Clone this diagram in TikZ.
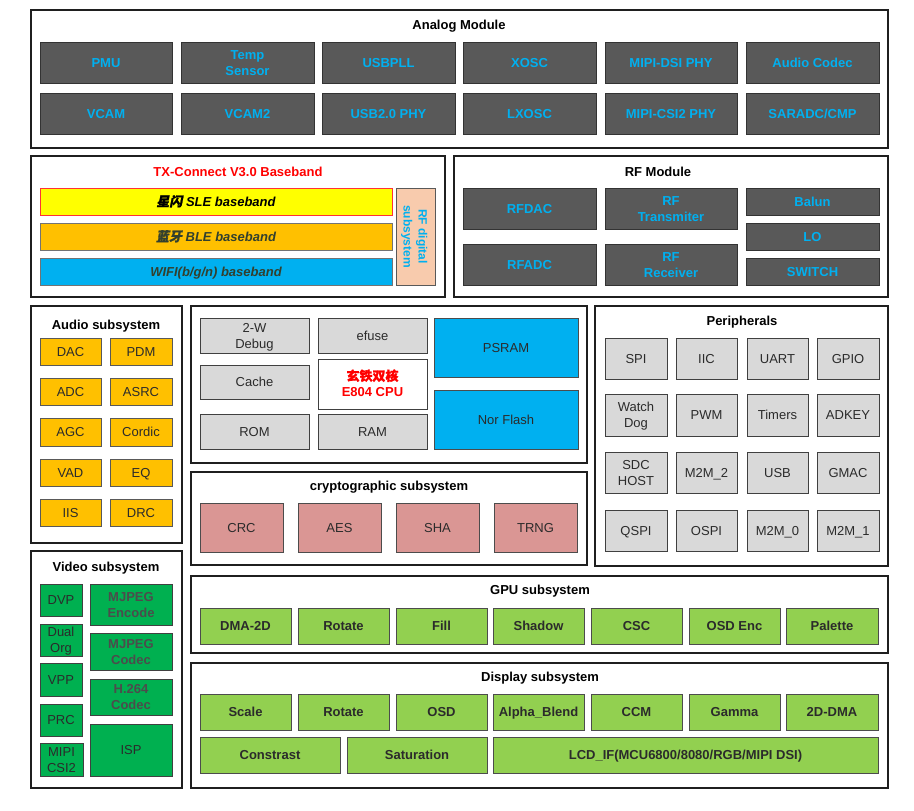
\documentclass[tikz,border=0pt]{standalone}
\usepackage{fontspec}
\setmainfont{Liberation Sans}
\newfontfamily\cjk[FakeBold=1]{Noto Sans CJK SC}
\newfontfamily\cjkit[FakeBold=1,FakeSlant=0.2]{Noto Sans CJK SC}
\definecolor{cyanb}{HTML}{00B0F0}
\definecolor{dgray}{HTML}{595959}
\definecolor{lgray}{HTML}{D9D9D9}
\definecolor{orng}{HTML}{FFC000}
\definecolor{pinkc}{HTML}{DA9694}
\definecolor{vgreen}{HTML}{00B050}
\definecolor{lgreen}{HTML}{92D050}
\definecolor{peach}{HTML}{F8CBAD}
\definecolor{ylw}{HTML}{FFFF00}
\definecolor{txtd}{HTML}{2B2B2B}
\definecolor{txtg}{HTML}{33402E}
\newcommand\bx[7]{\node[#1, minimum width={(#5-#3)*1pt}, minimum height={(#6-#4)*1pt}] (#2) at ({(#3+#5)/2},{(#4+#6)/2}) {#7};}
\tikzset{
  frame/.style={draw=black!88, line width=1.4pt, fill=white, inner sep=0pt},
  ttl/.style={font=\bfseries\fontsize{13}{15}\selectfont, text=black, inner sep=0pt},
  base/.style={inner sep=0pt, outer sep=0pt, align=center, line width=1pt, text height=9.4pt, text depth=0pt},
  ml/.style={text height=25.4pt, text depth=0pt},
  ana/.style={base, draw=black!80, fill=dgray, text=cyanb, font=\bfseries\fontsize{13}{16}\selectfont},
  gbox/.style={base, draw=black!75, fill=lgray, text=txtd, font=\fontsize{13}{16}\selectfont},
  obox/.style={base, draw=black!65, fill=orng, text=txtd, font=\fontsize{13}{16}\selectfont},
  cbox/.style={base, draw=black!70, fill=cyanb, text=txtd, font=\fontsize{13}{16}\selectfont},
  pbox/.style={base, draw=black!70, fill=pinkc, text=txtd, font=\fontsize{13}{16}\selectfont},
  vbox/.style={base, draw=black!75, fill=vgreen, text=txtd, font=\fontsize{13}{16}\selectfont},
  vboxb/.style={vbox, text=black!70, font=\bfseries\fontsize{13}{16}\selectfont},
  lbox/.style={base, draw=black!70, fill=lgreen, text=txtd, font=\bfseries\fontsize{13}{16}\selectfont},
  bband/.style={base, draw=black!55, font=\bfseries\itshape\fontsize{13}{16}\selectfont},
}
\begin{document}
\begin{tikzpicture}[x=1pt,y=-1pt]
\useasboundingbox (0,0) rectangle (914,811);
% frames
\bx{frame}{fA}{31}{10}{888}{148}{}
\bx{frame}{fT}{31}{156}{445}{297}{}
\bx{frame}{fR}{454}{156}{888}{297}{}
\bx{frame}{fAu}{31}{306}{182}{543}{}
\bx{frame}{fC}{191}{306}{587}{463}{}
\bx{frame}{fCr}{191}{472}{587}{565}{}
\bx{frame}{fP}{595}{306}{888}{566}{}
\bx{frame}{fV}{31}{551}{182}{788}{}
\bx{frame}{fG}{191}{576}{888}{653}{}
\bx{frame}{fD}{191}{663}{888}{788}{}
% titles
\node[ttl] (tA) at (459,26) {Analog Module};
\node[ttl, text=red] (tT) at (238,172) {TX-Connect V3.0 Baseband};
\node[ttl] (tR) at (658,172) {RF Module};
\node[ttl] (tAu) at (106,326) {Audio subsystem};
\node[ttl] (tCr) at (389,487) {cryptographic subsystem};
\node[ttl] (tP) at (742,322) {Peripherals};
\node[ttl] (tV) at (106,568) {Video subsystem};
\node[ttl] (tG) at (540,591) {GPU subsystem};
\node[ttl] (tD) at (540,678) {Display subsystem};
% analog
\bx{ana}{a1}{40}{42}{172}{83}{PMU}
\bx{ana, ml}{a2}{181}{42}{314}{83}{Temp\\Sensor}
\bx{ana}{a3}{322}{42}{455}{83}{USBPLL}
\bx{ana}{a4}{463}{42}{596}{83}{XOSC}
\bx{ana}{a5}{605}{42}{737}{83}{MIPI-DSI PHY}
\bx{ana}{a6}{746}{42}{879}{83}{Audio Codec}
\bx{ana}{a7}{40}{93}{172}{134}{VCAM}
\bx{ana}{a8}{181}{93}{314}{134}{VCAM2}
\bx{ana}{a9}{322}{93}{455}{134}{USB2.0 PHY}
\bx{ana}{a10}{463}{93}{596}{134}{LXOSC}
\bx{ana}{a11}{605}{93}{737}{134}{MIPI-CSI2 PHY}
\bx{ana}{a12}{746}{93}{879}{134}{SARADC/CMP}
% TX-Connect
\bx{bband, fill=ylw, draw=red!80}{sle}{40}{188}{392}{215}{{\cjkit 星闪} SLE baseband}
\bx{bband, fill=orng, text=txtg}{ble}{40}{223}{392}{250}{{\cjkit 蓝牙} BLE baseband}
\bx{bband, fill=cyanb, text=txtg}{wifi}{40}{258}{392}{285}{WIFI(b/g/n) baseband}
\bx{base, draw=black!65, fill=peach}{rfd}{396}{188}{435}{285}{}
\node[rotate=-90, align=center, text=cyanb, font=\bfseries\fontsize{12}{15}\selectfont, inner sep=0pt, text height=23.7pt, text depth=0pt] (rfdt) at (rfd.center) {RF digital\\subsystem};
% RF module
\bx{ana}{r1}{463}{188}{596}{229}{RFDAC}
\bx{ana}{r2}{463}{244}{596}{285}{RFADC}
\bx{ana, ml}{r3}{605}{188}{737}{229}{RF\\Transmiter}
\bx{ana, ml}{r4}{605}{244}{737}{285}{RF\\Receiver}
\bx{ana}{r5}{746}{188}{879}{215}{Balun}
\bx{ana}{r6}{746}{223}{879}{250}{LO}
\bx{ana}{r7}{746}{258}{879}{285}{SWITCH}
% audio
\bx{obox}{au1}{40}{338}{101}{365}{DAC}
\bx{obox}{au2}{110}{338}{172}{365}{PDM}
\bx{obox}{au3}{40}{378}{101}{405}{ADC}
\bx{obox}{au4}{110}{378}{172}{405}{ASRC}
\bx{obox}{au5}{40}{418}{101}{446}{AGC}
\bx{obox}{au6}{110}{418}{172}{446}{Cordic}
\bx{obox}{au7}{40}{459}{101}{486}{VAD}
\bx{obox}{au8}{110}{459}{172}{486}{EQ}
\bx{obox}{au9}{40}{499}{101}{526}{IIS}
\bx{obox}{au10}{110}{499}{172}{526}{DRC}
% CPU
\bx{gbox, ml}{c1}{200}{318}{309}{353}{2-W\\Debug}
\bx{gbox}{c2}{318}{318}{427}{353}{efuse}
\bx{gbox}{c3}{200}{365}{309}{399}{Cache}
\bx{base, ml, draw=black!75, fill=white, text=red, font=\bfseries\fontsize{13}{16}\selectfont}{cpu}{318}{359}{427}{409}{{\cjk 玄铁双核}\\E804 CPU}
\bx{gbox}{c5}{200}{414}{309}{449}{ROM}
\bx{gbox}{c6}{318}{414}{427}{449}{RAM}
\bx{cbox}{psram}{434}{318}{578}{377}{PSRAM}
\bx{cbox}{nor}{434}{390}{578}{449}{Nor Flash}
% crypto
\bx{pbox}{k1}{200}{503}{283}{552}{CRC}
\bx{pbox}{k2}{298}{503}{381}{552}{AES}
\bx{pbox}{k3}{396}{503}{479}{552}{SHA}
\bx{pbox}{k4}{494}{503}{577}{552}{TRNG}
% peripherals
\bx{gbox}{p1}{605}{338}{667}{379}{SPI}
\bx{gbox}{p2}{676}{338}{737}{379}{IIC}
\bx{gbox}{p3}{747}{338}{808}{379}{UART}
\bx{gbox}{p4}{817}{338}{879}{379}{GPIO}
\bx{gbox, ml}{p5}{605}{394}{667}{436}{Watch\\Dog}
\bx{gbox}{p6}{676}{394}{737}{436}{PWM}
\bx{gbox}{p7}{747}{394}{808}{436}{Timers}
\bx{gbox}{p8}{817}{394}{879}{436}{ADKEY}
\bx{gbox, ml}{p9}{605}{452}{667}{493}{SDC\\HOST}
\bx{gbox}{p10}{676}{452}{737}{493}{M2M\_2}
\bx{gbox}{p11}{747}{452}{808}{493}{USB}
\bx{gbox}{p12}{817}{452}{879}{493}{GMAC}
\bx{gbox}{p13}{605}{510}{667}{551}{QSPI}
\bx{gbox}{p14}{676}{510}{737}{551}{OSPI}
\bx{gbox}{p15}{747}{510}{808}{551}{M2M\_0}
\bx{gbox}{p16}{817}{510}{879}{551}{M2M\_1}
% video
\bx{vbox}{v1}{40}{584}{82}{616}{DVP}
\bx{vbox, ml}{v2}{40}{624}{82}{656}{Dual\\Org}
\bx{vbox}{v3}{40}{663}{82}{696}{VPP}
\bx{vbox}{v4}{40}{704}{82}{736}{PRC}
\bx{vbox, ml}{v5}{40}{743}{83}{776}{MIPI\\CSI2}
\bx{vboxb, ml}{v6}{90}{584}{172}{625}{MJPEG\\Encode}
\bx{vboxb, ml}{v7}{90}{633}{172}{670}{MJPEG\\Codec}
\bx{vboxb, ml}{v8}{90}{679}{172}{715}{H.264\\Codec}
\bx{vbox}{v9}{90}{724}{172}{776}{ISP}
% GPU
\bx{lbox}{g1}{200}{608}{291}{644}{DMA-2D}
\bx{lbox}{g2}{298}{608}{389}{644}{Rotate}
\bx{lbox}{g3}{396}{608}{487}{644}{Fill}
\bx{lbox}{g4}{493}{608}{584}{644}{Shadow}
\bx{lbox}{g5}{591}{608}{682}{644}{CSC}
\bx{lbox}{g6}{689}{608}{780}{644}{OSD Enc}
\bx{lbox}{g7}{786}{608}{878}{644}{Palette}
% display
\bx{lbox}{d1}{200}{694}{291}{730}{Scale}
\bx{lbox}{d2}{298}{694}{389}{730}{Rotate}
\bx{lbox}{d3}{396}{694}{487}{730}{OSD}
\bx{lbox}{d4}{493}{694}{584}{730}{Alpha\_Blend}
\bx{lbox}{d5}{591}{694}{682}{730}{CCM}
\bx{lbox}{d6}{689}{694}{780}{730}{Gamma}
\bx{lbox}{d7}{786}{694}{878}{730}{2D-DMA}
\bx{lbox}{d8}{200}{737}{340}{773}{Constrast}
\bx{lbox}{d9}{347}{737}{487}{773}{Saturation}
\bx{lbox}{d10}{493}{737}{878}{773}{LCD\_IF(MCU6800/8080/RGB/MIPI DSI)}
\end{tikzpicture}
\end{document}
